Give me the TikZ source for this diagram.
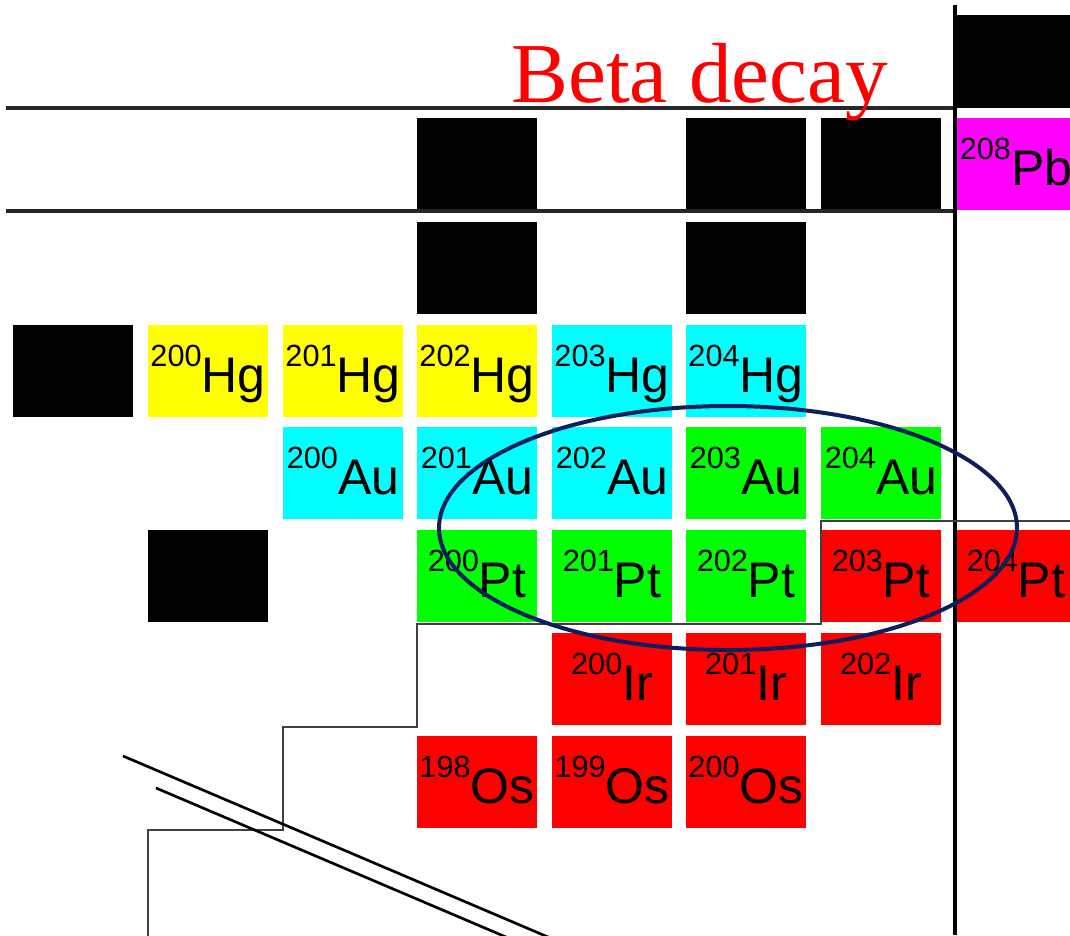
\documentclass[tikz,border=0pt]{standalone}
\usepackage{fontspec}
\setmainfont{Liberation Sans}
\newfontfamily\titleserif{Liberation Serif}
\newcommand\iso[2]{\raisebox{19.5pt}{\fontsize{23pt}{23pt}\selectfont #1}#2}
\definecolor{hgyellow}{HTML}{FFFF00}
\definecolor{isocyan}{HTML}{00FFFF}
\definecolor{isogreen}{HTML}{00FF00}
\definecolor{isored}{HTML}{FF0000}
\definecolor{isomagenta}{HTML}{FF00FF}
\definecolor{navyring}{HTML}{0B1F5C}
\definecolor{stairgray}{HTML}{404040}
\tikzset{
  cell/.style={anchor=north west, inner sep=0pt, outer sep=0pt, minimum width=90pt,
    minimum height=69pt, text height=50.25pt, text depth=18.75pt, align=center,
    font=\fontsize{37.5pt}{37.5pt}\selectfont},
  blk/.style={cell, fill=black},
  yel/.style={cell, fill=hgyellow},
  cya/.style={cell, fill=isocyan},
  grn/.style={cell, fill=isogreen},
  rd/.style={cell, fill=isored},
  mag/.style={cell, fill=isomagenta},
  mainline/.style={line width=2.7pt, draw=black!85},
  stairline/.style={line width=1.8pt, draw=stairgray},
  diagline/.style={line width=2pt, draw=black},
  ring/.style={line width=3pt, draw=navyring},
}
\begin{document}
\begin{tikzpicture}[x=0.75pt, y=-0.75pt]
\useasboundingbox (0,0) rectangle (1070,935);
\clip (0,0) rectangle (1070,935);

% row 0
\node[blk, minimum height=70pt, text height=0pt, text depth=0pt] (b07) at (956,15) {};
% row 1
\node[blk] (b13) at (417,118) {};
\node[blk] (b15) at (686,118) {};
\node[blk] (b16) at (821,118) {};
\node[mag] (pb208) at (956,118) {\iso{208}{Pb}};
% row 2
\node[blk] (b23) at (417,222) {};
\node[blk] (b25) at (686,222) {};
% row 3
\node[blk] (b30) at (13,325) {};
\node[yel] (hg200) at (148,325) {\iso{200}{Hg}};
\node[yel] (hg201) at (283,325) {\iso{201}{Hg}};
\node[yel] (hg202) at (417,325) {\iso{202}{Hg}};
\node[cya] (hg203) at (552,325) {\iso{203}{Hg}};
\node[cya] (hg204) at (686,325) {\iso{204}{Hg}};
% row 4
\node[cya] (au200) at (283,427) {\iso{200}{Au}};
\node[cya] (au201) at (417,427) {\iso{201}{Au}};
\node[cya] (au202) at (552,427) {\iso{202}{Au}};
\node[grn] (au203) at (686,427) {\iso{203}{Au}};
\node[grn] (au204) at (821,427) {\iso{204}{Au}};
% row 5
\node[blk] (b51) at (148,530) {};
\node[grn] (pt200) at (417,530) {\iso{200}{Pt}};
\node[grn] (pt201) at (552,530) {\iso{201}{Pt}};
\node[grn] (pt202) at (686,530) {\iso{202}{Pt}};
\node[rd] (pt203) at (821,530) {\iso{203}{Pt}};
\node[rd] (pt204) at (956,530) {\iso{204}{Pt}};
% row 6
\node[rd] (ir200) at (552,633) {\iso{200}{Ir}};
\node[rd] (ir201) at (686,633) {\iso{201}{Ir}};
\node[rd] (ir202) at (821,633) {\iso{202}{Ir}};
% row 7
\node[rd] (os198) at (417,736) {\iso{198}{Os}};
\node[rd] (os199) at (552,736) {\iso{199}{Os}};
\node[rd] (os200) at (686,736) {\iso{200}{Os}};

% frame lines
\coordinate (hA1) at (6,108);   \coordinate (hA2) at (955,108);
\coordinate (hB1) at (6,211);   \coordinate (hB2) at (955,211);
\coordinate (vT) at (955,5);    \coordinate (vB) at (955,935);
\draw[mainline] (hA1) -- (hA2);
\draw[mainline] (hB1) -- (hB2);
\draw[mainline, draw=black, line width=2.4pt] (vT) -- (vB);

% stair line
\coordinate (s0) at (148,940);
\coordinate (s1) at (283,830);
\coordinate (s2) at (417,727);
\coordinate (s3) at (821,624);
\coordinate (s4) at (1075,521);
\draw[stairline] (s0) |- (s1) |- (s2) |- (s3) |- (s4);

% diagonal lines
\coordinate (d1a) at (123,756); \coordinate (d1b) at (602,960);
\coordinate (d2a) at (156,788); \coordinate (d2b) at (560,960);
\draw[diagline] (d1a) -- (d1b);
\draw[diagline] (d2a) -- (d2b);

% title
\node[anchor=base west, inner sep=0pt, text=red, font=\titleserif\fontsize{64pt}{64pt}\selectfont] (beta) at (511,102) {Beta decay};

% ellipse
\coordinate (ec) at (728,528);
\draw[ring] (ec) ellipse [x radius=216.75pt, y radius=91.5pt];
\end{tikzpicture}
\end{document}
